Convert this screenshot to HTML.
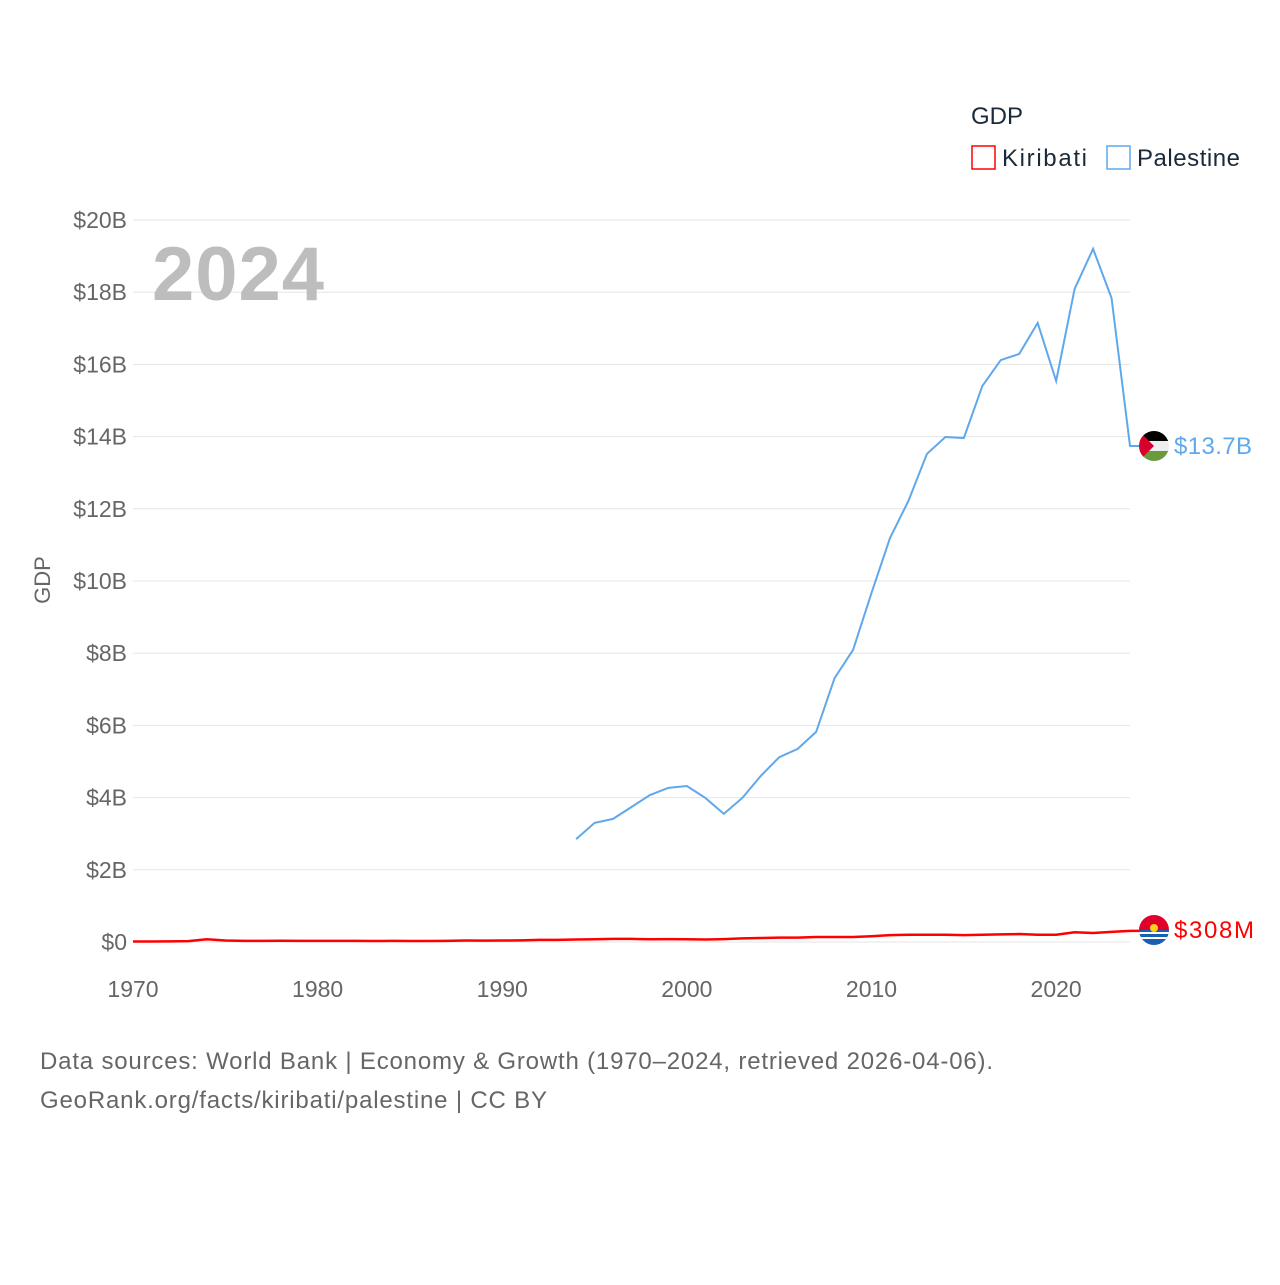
<!DOCTYPE html>
<html><head><meta charset="utf-8"><style>
body{margin:0;background:#fff;font-family:"Liberation Sans",sans-serif;}
#c{position:relative;width:1280px;height:1280px;}
</style></head><body>
<div id="c">
<svg id="s" width="1280" height="1280"></svg>
</div>
<script>
const years=[];for(let y=1970;y<=2024;y++)years.push(y);
const palestineYears=[1994,1995,1996,1997,1998,1999,2000,2001,2002,2003,2004,2005,2006,2007,2008,2009,2010,2011,2012,2013,2014,2015,2016,2017,2018,2019,2020,2021,2022,2023,2024];
const palestineGDP=[2.85,3.3,3.41,3.74,4.07,4.27,4.32,3.99,3.55,3.99,4.6,5.12,5.35,5.82,7.31,8.09,9.67,11.19,12.22,13.52,13.99,13.96,15.4,16.12,16.29,17.15,15.54,18.09,19.2,17.84,13.74];
const kiribatiGDP=[0.015,0.015,0.017,0.025,0.075,0.04,0.03,0.03,0.033,0.03,0.03,0.03,0.03,0.028,0.03,0.028,0.028,0.032,0.04,0.038,0.04,0.045,0.06,0.06,0.07,0.075,0.085,0.085,0.075,0.08,0.075,0.07,0.08,0.1,0.11,0.12,0.12,0.14,0.14,0.14,0.16,0.19,0.2,0.2,0.2,0.19,0.2,0.21,0.22,0.2,0.2,0.27,0.25,0.28,0.308];
const yTicks=[0,2,4,6,8,10,12,14,16,18,20];
const yTickLabels=["$0","$2B","$4B","$6B","$8B","$10B","$12B","$14B","$16B","$18B","$20B"];
const xTicks=[1970,1980,1990,2000,2010,2020];

const NS="http://www.w3.org/2000/svg",svg=document.getElementById('s');
const X=y=>133+(y-1970)*(1130-133)/54;
const Y=v=>942-v*(942-220)/20;
function el(t,a,txt){const e=document.createElementNS(NS,t);for(const k in a)e.setAttribute(k,a[k]);if(txt!==undefined)e.textContent=txt;svg.appendChild(e);return e;}
yTicks.forEach((v,i)=>{
 const g=el('line',{x1:133,x2:1130,y1:Y(v),y2:Y(v),stroke:'#e6e6e6','stroke-width':1});
 
 const t=el('text',{x:127,y:Y(v)+8,'text-anchor':'end','font-size':23,fill:'#666'},yTickLabels[i]);
 
});
xTicks.forEach(v=>{
 const t=el('text',{x:X(v),y:997,'text-anchor':'middle','font-size':23,fill:'#666'},v);
 
});
const yt=el('text',{x:50,y:580,'text-anchor':'middle','font-size':22,fill:'#666',transform:'rotate(-90 50 580)'},'GDP');

const yr=el('text',{x:152,y:300,'font-size':76,'font-weight':'bold',fill:'#bdbdbd',textLength:172},'2024');

let pp=palestineYears.map((y,i)=>X(y)+','+Y(palestineGDP[i])).join(' ')+' '+(X(2024)+10)+','+Y(palestineGDP[palestineGDP.length-1]);
const pl=el('polyline',{points:pp,fill:'none',stroke:'#5fa8ec','stroke-width':2});

let kp=years.map((y,i)=>X(y)+','+Y(kiribatiGDP[i])).join(' ')+' '+(X(2024)+10)+','+Y(kiribatiGDP[kiribatiGDP.length-1]);
const kl=el('polyline',{points:kp,fill:'none',stroke:'#ff0000','stroke-width':2.5});

const py=Y(palestineGDP[palestineGDP.length-1]),cx=1154;
const defs=el('defs',{});
defs.innerHTML='<clipPath id="cp1"><circle cx="'+cx+'" cy="'+py+'" r="15"/></clipPath><clipPath id="cp2"><circle cx="'+cx+'" cy="930" r="15"/></clipPath>';
const f1=el('g',{'clip-path':'url(#cp1)'});
f1.innerHTML='<rect x="1139" y="'+(py-15)+'" width="30" height="10" fill="#000"/><rect x="1139" y="'+(py-5)+'" width="30" height="10" fill="#eee"/><rect x="1139" y="'+(py+5)+'" width="30" height="10" fill="#6a9a3c"/><polygon points="1139,'+(py-15)+' 1154,'+py+' 1139,'+(py+15)+'" fill="#d7002b"/>';
const f2=el('g',{'clip-path':'url(#cp2)'});
f2.innerHTML='<rect x="1139" y="915" width="30" height="15" fill="#e0002a"/><rect x="1139" y="930" width="30" height="15" fill="#1a5fb4"/><rect x="1139" y="932" width="30" height="2" fill="#fff"/><rect x="1139" y="937" width="30" height="2" fill="#fff"/><circle cx="1154" cy="928" r="4" fill="#fcd116"/>';
const l1=el('text',{x:1174,y:py+8,'font-size':24,fill:'#5fa8ec',textLength:78},'$13.7B');
const l2=el('text',{x:1174,y:938,'font-size':24,fill:'#ff0000',textLength:80},'$308M');
const lt=el('text',{x:971,y:124,'font-size':24,fill:'#1a2a3a'},'GDP');
const r1=el('rect',{x:972,y:146,width:23,height:23,fill:'none',stroke:'#ff0000','stroke-width':1.5});
const t1=el('text',{x:1002,y:166,'font-size':24,fill:'#1a2a3a',textLength:85},'Kiribati');
const r2=el('rect',{x:1107,y:146,width:23,height:23,fill:'none',stroke:'#5fa8ec','stroke-width':1.5});
const t2=el('text',{x:1137,y:166,'font-size':24,fill:'#1a2a3a',textLength:103},'Palestine');
const s1=el('text',{x:40,y:1069,'font-size':24,fill:'#666',textLength:953},'Data sources: World Bank | Economy & Growth (1970–2024, retrieved 2026-04-06).');
const s2=el('text',{x:40,y:1108,'font-size':24,fill:'#666',textLength:507},'GeoRank.org/facts/kiribati/palestine | CC BY');
</script>
</body></html>
